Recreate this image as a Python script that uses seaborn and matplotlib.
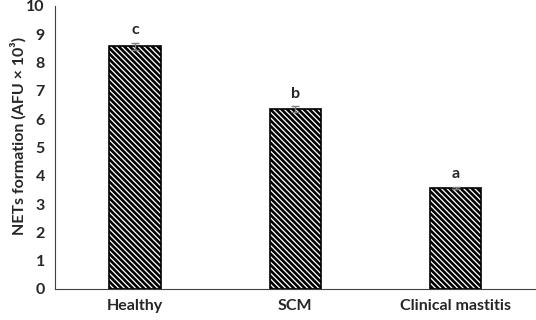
import numpy as np
import pandas as pd
import matplotlib
matplotlib.use("Agg")
import matplotlib.pyplot as plt
import seaborn as sns

groups = ["Healthy", "SCM", "Clinical mastitis"]
means = [8.57, 6.35, 3.57]
errors = [0.12, 0.10, 0.03]
letters = ["c", "b", "a"]

sns.set_style("white")
plt.rcParams['font.family'] = ['Lato', 'DejaVu Sans']
plt.rcParams['hatch.linewidth'] = 1.9

df = pd.DataFrame({"group": groups, "value": means})

fig = plt.figure(figsize=(5.36, 3.2), dpi=100)
ax = fig.add_axes([0.102, 0.097, 0.898, 0.885])

sns.barplot(data=df, x="group", y="value", order=groups, color="white",
            edgecolor="black", linewidth=1.2, width=0.32, ax=ax)
for p in ax.patches:
    p.set_hatch("\\\\\\\\\\\\")

# error bars + significance letters
xpos = np.arange(len(groups))
ax.errorbar(xpos, means, yerr=errors, fmt="none", ecolor="#808080",
            elinewidth=1, capsize=3, capthick=1)
for x, m, e, l in zip(xpos, means, errors, letters):
    ax.text(x, m + e + 0.2, l, ha="center", va="bottom",
            fontsize=11.5, fontweight="bold")

ax.set_ylim(0, 10)
ax.set_yticks(range(0, 11))
ax.set_xlim(-0.5, 2.5)
ax.set_xlabel("")
ax.set_ylabel("NETs formation (AFU × 10³)", fontsize=11.5, fontweight="bold")
ax.yaxis.set_label_coords(-0.058, 0.54)
ax.tick_params(axis="both", length=0, labelsize=11.5)
ax.tick_params(axis="x", pad=7)
ax.tick_params(axis="y", pad=7)
for lab in ax.get_xticklabels() + ax.get_yticklabels():
    lab.set_fontweight("bold")
sns.despine(ax=ax, top=True, right=True)
ax.spines["left"].set_color("#404040")
ax.spines["bottom"].set_color("#404040")

fig.savefig("out.png", dpi=100)
